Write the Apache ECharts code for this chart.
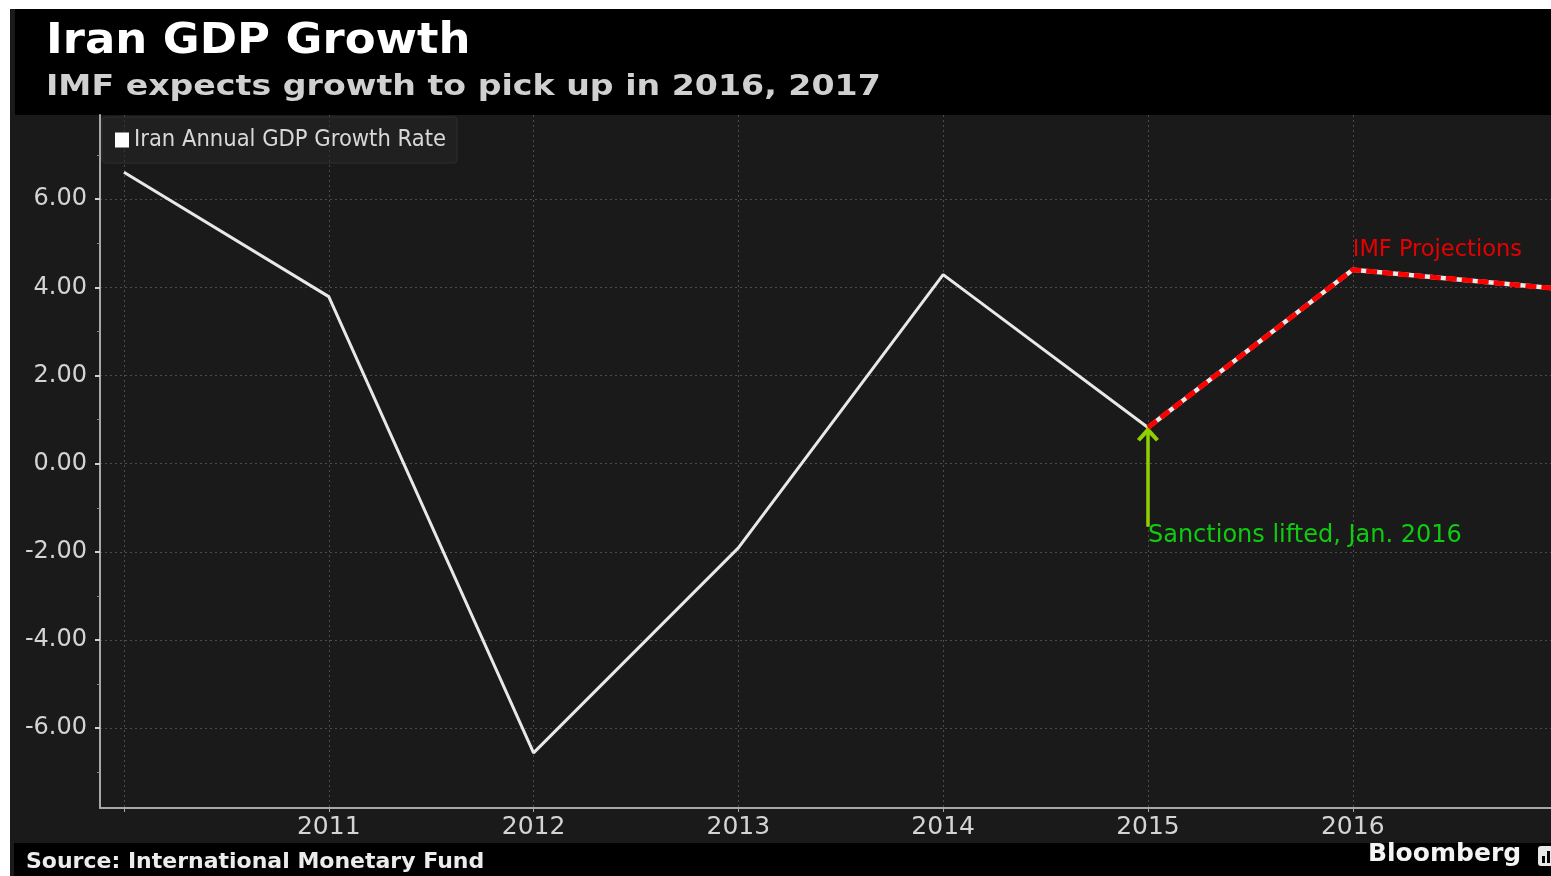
<!DOCTYPE html>
<html>
<head>
<meta charset="utf-8">
<script src="https://cdn.jsdelivr.net/npm/echarts@6/dist/echarts.min.js"></script>
<style>
html,body{margin:0;padding:0;background:#fff;}
#chart{width:1551px;height:876px;}
</style>
</head>
<body>
<div id="chart"></div>
<script>
// ---- data ----
const years = [2010, 2011, 2012, 2013, 2014, 2015, 2016, 2017];
const gdpGrowth = [6.61, 3.79, -6.56, -1.91, 4.29, 0.82, 4.40, 3.97];
const projectionStartYear = 2015;
const yTickValues = [-6, -4, -2, 0, 2, 4, 6];
const yMinorTickValues = [-7, -5, -3, -1, 1, 3, 5, 7];
const xTickYears = [2010, 2011, 2012, 2013, 2014, 2015, 2016];
const xLabelYears = [2011, 2012, 2013, 2014, 2015, 2016];
const sanctionsArrow = { year: 2015, from: -1.43, to: 0.82 };
const sanctionsLabel = { year: 2015, value: -1.63, text: 'Sanctions lifted, Jan. 2016' };
const projLabel = { year: 2016, value: 4.84, text: 'IMF Projections' };

const seriesName = 'Iran Annual GDP Growth Rate';
const allData = years.map((y, i) => [y, gdpGrowth[i]]);
const projData = allData.filter(d => d[0] >= projectionStartYear);

const FONT = '"DejaVu Sans", sans-serif';
const FONT_COND = '"DejaVu Sans Condensed", "DejaVu Sans", sans-serif';
const gridColor = '#4c4c4c';

const chart = echarts.init(document.getElementById('chart'));
chart.setOption({
  backgroundColor: '#ffffff',
  animation: false,
  graphic: [
    { type: 'rect', z: -100, shape: { x: 10, y: 9, width: 1541, height: 867 }, style: { fill: '#1a1a1a' } },
    { type: 'rect', z: -99, shape: { x: 15, y: 9, width: 1536, height: 106 }, style: { fill: '#000000' } },
    { type: 'rect', z: -99, shape: { x: 14, y: 843, width: 1537, height: 33 }, style: { fill: '#000000' } },
    { type: 'text', z: 10, x: 46, y: 42, scaleX: 1.07, style: { x: 0, y: 0, text: 'Iran GDP Growth', fill: '#ffffff', font: 'bold 42px "DejaVu Sans", sans-serif', verticalAlign: 'middle' } },
    { type: 'text', z: 10, x: 46, y: 87, scaleX: 1.145, style: { x: 0, y: 0, text: 'IMF expects growth to pick up in 2016, 2017', fill: '#d0d0d0', font: 'bold 29px "DejaVu Sans", sans-serif', verticalAlign: 'middle' } },
    { type: 'text', z: 10, style: { x: 26, y: 862, text: 'Source: International Monetary Fund', fill: '#ececec', font: 'bold 22px "DejaVu Sans", sans-serif', verticalAlign: 'middle' } },
    { type: 'text', z: 10, style: { x: 1368, y: 854, text: 'Bloomberg', fill: '#f4f4f4', font: 'bold 25px "DejaVu Sans", sans-serif', verticalAlign: 'middle' } },
    { type: 'rect', z: 10, shape: { x: 1538, y: 846, width: 16, height: 20, r: 3 }, style: { fill: '#e8e8e8' } },
    { type: 'rect', z: 11, shape: { x: 1542, y: 856, width: 3, height: 7 }, style: { fill: '#000' } },
    { type: 'rect', z: 11, shape: { x: 1547, y: 851, width: 3, height: 12 }, style: { fill: '#000' } }
  ],
  legend: {
    left: 102, top: 117,
    padding: [11, 11, 11, 13],
    itemWidth: 14, itemHeight: 15,
    backgroundColor: 'rgba(38,38,38,0.55)',
    borderColor: '#2e2e2e', borderWidth: 1, borderRadius: 3,
    data: [{ name: seriesName, icon: 'rect', itemStyle: { color: '#ffffff' } }],
    textStyle: { color: '#d8d8d8', fontSize: 23.5, fontFamily: FONT_COND }
  },
  grid: { left: 100, right: 0, top: 115, bottom: 68, containLabel: false },
  xAxis: {
    type: 'value', min: 2009.883, max: 2016.968,
    axisLine: { show: true, onZero: false, lineStyle: { color: '#a8a8a8', width: 2 } },
    axisTick: { show: true, customValues: xTickYears, length: 4, lineStyle: { color: '#a8a8a8', width: 1 } },
    axisLabel: { customValues: xLabelYears, formatter: v => String(v), color: '#d4d4d4', fontSize: 25, fontFamily: FONT, margin: 7 },
    splitLine: { show: true, lineStyle: { color: gridColor, type: [2, 3], width: 1 } }
  },
  yAxis: [
    {
      type: 'value', min: -7.81, max: 7.91, position: 'left',
      axisLine: { show: true, lineStyle: { color: '#a8a8a8', width: 2 } },
      axisTick: { show: true, customValues: yTickValues, length: 5, lineStyle: { color: '#d0d0d0', width: 2 } },
      axisLabel: { customValues: yTickValues, formatter: v => v.toFixed(2), color: '#d4d4d4', fontSize: 24, fontFamily: FONT, margin: 13 },
      splitLine: { show: true, lineStyle: { color: gridColor, type: [2, 3], width: 1 } }
    },
    {
      type: 'value', min: -7.81, max: 7.91, position: 'left',
      axisLine: { show: false },
      axisTick: { show: true, customValues: yMinorTickValues, length: 3, lineStyle: { color: '#8a8a8a', width: 1 } },
      axisLabel: { show: false },
      splitLine: { show: false }
    }
  ],
  series: [
    {
      name: seriesName, type: 'line', data: allData, showSymbol: false, z: 3,
      lineStyle: { color: '#e8e8e8', width: 3 }, itemStyle: { color: '#ffffff' },
      markLine: {
        silent: true, animation: false,
        symbol: ['none', 'path://M11,-13L11.01,-13Z M0,12 L11,0 L22,12 L19,14.5 L11,6 L3,14.5 Z'],
        symbolSize: [22, 28],
        lineStyle: { color: '#8fd000', width: 3.5, type: 'solid' },
        label: { show: false },
        data: [[{ coord: [sanctionsArrow.year, sanctionsArrow.from] }, { coord: [sanctionsArrow.year, sanctionsArrow.to] }]]
      }
    },
    {
      name: 'projection-base', type: 'line', data: projData, showSymbol: false, z: 4,
      lineStyle: { color: '#e8e8e8', width: 4.5 }
    },
    {
      name: 'IMF Projections', type: 'line', data: projData, showSymbol: false, z: 5,
      lineStyle: { color: '#ff0000', width: 5, type: [11, 5] },
      markPoint: {
        silent: true, symbolSize: 0,
        data: [
          { coord: [projLabel.year, projLabel.value], label: { show: true, formatter: projLabel.text, position: 'right', distance: 0, color: '#e60000', fontSize: 22.5, fontFamily: FONT } },
          { coord: [sanctionsLabel.year, sanctionsLabel.value], label: { show: true, formatter: sanctionsLabel.text, position: 'right', distance: 0, color: '#10cc10', fontSize: 24, fontFamily: FONT } }
        ]
      }
    }
  ]
});
</script>
</body>
</html>
